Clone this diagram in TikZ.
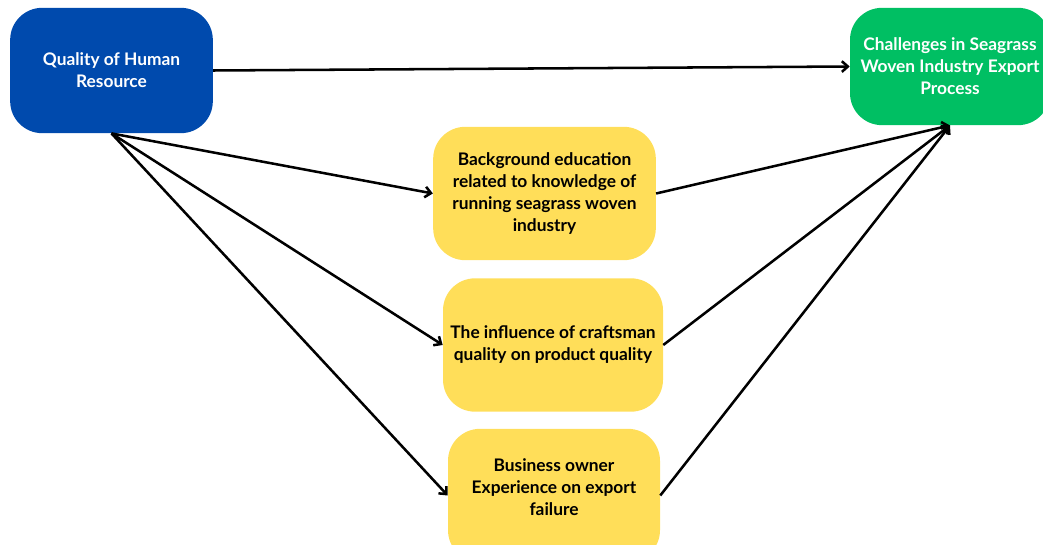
\documentclass[tikz,border=0pt]{standalone}
\usepackage{fontspec}
\setmainfont{Lato}
\usetikzlibrary{arrows.meta}

\definecolor{hrblue}{HTML}{004AAD}
\definecolor{outgreen}{HTML}{00BF63}
\definecolor{factoryellow}{HTML}{FFDE59}

\begin{document}
\begin{tikzpicture}[
        x=0.75pt, y=-0.75pt,
        box style/.style={rounded corners=24pt, inner sep=4pt,
            font=\bfseries\fontsize{13}{16.5}\selectfont, align=center},
        factor/.style={box style, fill=factoryellow, text=black,
            minimum height=100pt},
        flow/.style={-{Straight Barb[length=4.5pt,width=8pt]}, line width=1.9pt},
    ]
        \useasboundingbox (0,0) rectangle (1043,545);

        % Source and outcome
        \node[box style, fill=hrblue, text=white, minimum width=152pt,
            minimum height=94pt] (hr) at (111.5,70.5)
            {Quality of Human\\Resource};
        \node[box style, fill=outgreen, text=white, minimum width=150pt,
            minimum height=88pt] (chal) at (950,66.5)
            {Challenges in Seagrass\\Woven Industry Export\\Process};

        % Factors
        \node[factor, minimum width=167pt] (edu) at (544.5,193.5)
            {Background education\\related to knowledge of\\running seagrass woven\\industry};
        \node[factor, minimum width=165pt] (craft) at (553,345)
            {The influence of craftsman\\quality on product quality};
        \node[factor, minimum width=159pt] (owner) at (554,495.5)
            {Business owner\\Experience on export\\failure\\[-4.5pt]};

        % Flows
        \draw[flow] (hr.east) -- (chal.west);
        \draw[flow] (hr.south) -- (edu.west);
        \draw[flow] (hr.south) -- (craft.west);
        \draw[flow] (hr.south) -- (owner.west);

        \draw[flow] (edu.east) -- (chal.south);
        \draw[flow] (craft.east) -- (chal.south);
        \draw[flow] (owner.east) -- (chal.south);
    \end{tikzpicture}
\end{document}
